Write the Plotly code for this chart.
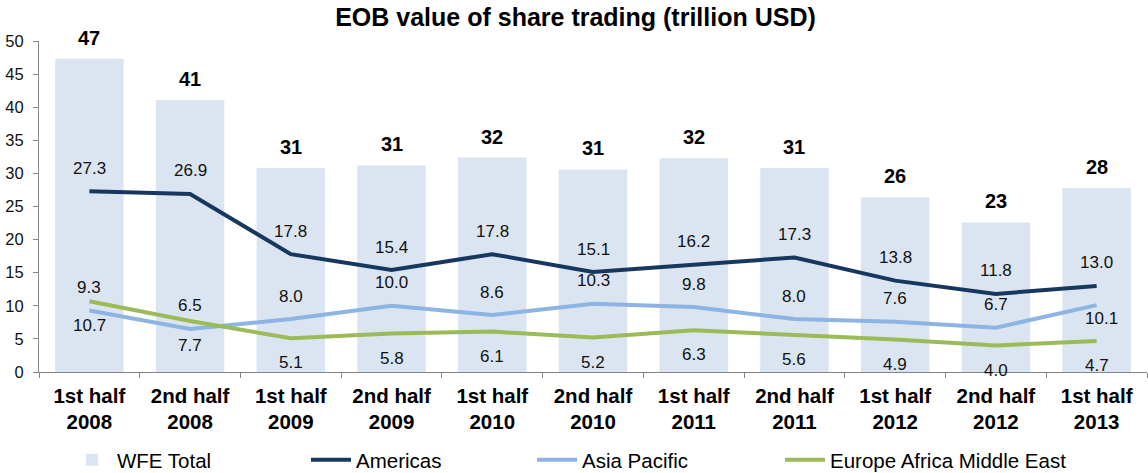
import plotly.graph_objects as go

categories = ["1st half<br>2008", "2nd half<br>2008", "1st half<br>2009", "2nd half<br>2009",
              "1st half<br>2010", "2nd half<br>2010", "1st half<br>2011", "2nd half<br>2011",
              "1st half<br>2012", "2nd half<br>2012", "1st half<br>2013"]
wfe_total = [47.3, 41.1, 30.8, 31.2, 32.4, 30.6, 32.3, 30.8, 26.4, 22.6, 27.8]
americas = [27.3, 26.9, 17.8, 15.4, 17.8, 15.1, 16.2, 17.3, 13.8, 11.8, 13.0]
asia_pacific = [9.3, 6.5, 8.0, 10.0, 8.6, 10.3, 9.8, 8.0, 7.6, 6.7, 10.1]
emea = [10.7, 7.7, 5.1, 5.8, 6.1, 5.2, 6.3, 5.6, 4.9, 4.0, 4.7]
y_ticks = [0, 5, 10, 15, 20, 25, 30, 35, 40, 45, 50]

FONT = "Liberation Sans, Arial, sans-serif"
C_BAR = "#DBE5F1"
C_AM = "#17375E"
C_AP = "#8DB4E2"
C_EM = "#9BBB59"

W, H = 1148, 473
PLOT_W = W - 39 - 1

fig = go.Figure()
fig.add_trace(go.Bar(x=categories, y=wfe_total, name="WFE Total", marker=dict(color=C_BAR, line=dict(width=0)),
                     width=0.68, legend="legend", showlegend=True))
fig.add_trace(go.Scatter(x=categories, y=americas, name="Americas", mode="lines",
                         line=dict(color=C_AM, width=4), legend="legend2", showlegend=True))
fig.add_trace(go.Scatter(x=categories, y=asia_pacific, name="Asia Pacific", mode="lines",
                         line=dict(color=C_AP, width=4), legend="legend3", showlegend=True))
fig.add_trace(go.Scatter(x=categories, y=emea, name="Europe Africa Middle East", mode="lines",
                         line=dict(color=C_EM, width=4), legend="legend4", showlegend=True))

annotations = []
for c, v in zip(categories, wfe_total):
    annotations.append(dict(x=c, y=v, xref="x", yref="y", text=f"{round(v)}", showarrow=False,
                            yshift=21, font=dict(family=FONT, size=20, color="#000", weight="bold")))
for c, v in zip(categories, americas):
    annotations.append(dict(x=c, y=v, xref="x", yref="y", text=f"{v:.1f}", showarrow=False,
                            yshift=23, font=dict(family=FONT, size=17, color="#111")))
for i, (c, v) in enumerate(zip(categories, asia_pacific)):
    last = i == len(categories) - 1
    annotations.append(dict(x=c, y=v, xref="x", yref="y", text=f"{v:.1f}", showarrow=False,
                            yshift=(-13 if last else 23), xshift=(5 if last else 0),
                            font=dict(family=FONT, size=17, color="#111")))
for c, v in zip(categories, emea):
    annotations.append(dict(x=c, y=v, xref="x", yref="y", text=f"{v:.1f}", showarrow=False,
                            yshift=-24.5, font=dict(family=FONT, size=17, color="#111")))

leg_common = dict(orientation="h", yref="container", yanchor="middle", y=13 / H, xanchor="left",
                  itemwidth=40, font=dict(family=FONT, size=20.5, color="#000"), bgcolor="rgba(0,0,0,0)")

fig.update_layout(
    width=W, height=H,
    margin=dict(l=39, r=1, t=41, b=101, autoexpand=False),
    paper_bgcolor="white", plot_bgcolor="white",
    showlegend=True,
    title=dict(text="EOB value of share trading (trillion USD)", x=575.5 / W, xref="container", xanchor="center",
               y=1 - 17 / H, yref="container", yanchor="middle",
               font=dict(family=FONT, size=25, color="#000", weight="bold")),
    font=dict(family=FONT),
    annotations=annotations,
    legend=dict(x=28 / PLOT_W, **leg_common),
    legend2=dict(x=267 / PLOT_W, **leg_common),
    legend3=dict(x=493 / PLOT_W, **leg_common),
    legend4=dict(x=741 / PLOT_W, **leg_common),
    xaxis=dict(type="category", tickson="boundaries", ticks="outside", ticklen=5, tickcolor="#868686",
               showline=True, linecolor="#868686", linewidth=1, showgrid=False, ticklabelstandoff=5,
               tickfont=dict(family=FONT, size=20.5, color="#000", weight="bold"), range=[-0.5, 10.5]),
    yaxis=dict(range=[0, 50], tickvals=y_ticks, ticks="outside", ticklen=5, tickcolor="#868686",
               showline=True, linecolor="#868686", linewidth=1, showgrid=False, zeroline=False,
               ticklabelstandoff=6,
               tickfont=dict(family=FONT, size=16.5, color="#111")),
)

fig.write_html("out.html", config={"displayModeBar": False},
               post_script="document.body.style.margin='0px';")
